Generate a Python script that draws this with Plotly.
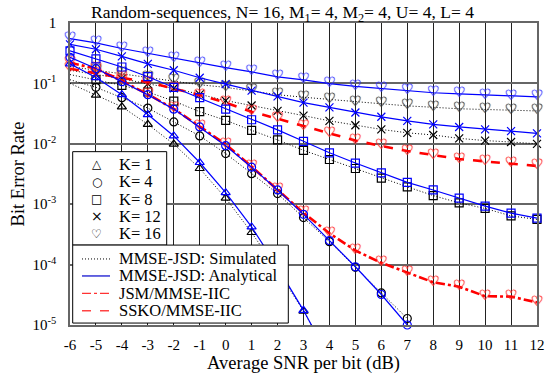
import plotly.graph_objects as go

# ---------------- data ----------------
snr_full = list(range(-6, 13))
snr_k1 = list(range(-6, 5))
snr_k4 = list(range(-6, 8))

sim_k1 = [0.10, 0.064, 0.041, 0.021, 0.0099, 0.0039, 0.00126, 0.00034, 8.0e-5, 1.7e-5, 3.0e-6]
ana_k1 = [0.211, 0.125, 0.065, 0.0305, 0.0135, 0.0049, 0.00155, 0.00042, 9.0e-5, 1.75e-5, 2.8e-6]
sim_k4 = [0.115, 0.086, 0.058, 0.039, 0.023, 0.0135, 0.0069, 0.0032, 0.0015, 0.0006, 0.00024, 9.0e-5, 3.4e-5, 1.28e-5]
ana_k4 = [0.27, 0.176, 0.107, 0.065, 0.0375, 0.019, 0.0093, 0.0041, 0.00172, 0.00068, 0.00025, 9.2e-5, 3.2e-5, 1.0e-5]
sim_k8 = [0.14, 0.115, 0.093, 0.072, 0.051, 0.034, 0.0245, 0.0167, 0.0116, 0.0078, 0.0055, 0.0039, 0.0027,
          0.00194, 0.00139, 0.00105, 0.00085, 0.00064, 0.00056]
ana_k8 = [0.346, 0.254, 0.187, 0.129, 0.086, 0.058, 0.0375, 0.025, 0.017, 0.011, 0.0071, 0.0048, 0.0033,
          0.0023, 0.00172, 0.00126, 0.00093, 0.00071, 0.00059]
sim_k12 = [0.165, 0.14, 0.12, 0.098, 0.083, 0.066, 0.052, 0.043, 0.035, 0.0293, 0.024, 0.0203, 0.0173,
           0.0152, 0.014, 0.0123, 0.0113, 0.0107, 0.010]
ana_k12 = [0.443, 0.368, 0.281, 0.211, 0.165, 0.124, 0.097, 0.076, 0.061, 0.048, 0.040, 0.033, 0.028,
           0.024, 0.021, 0.019, 0.0173, 0.0162, 0.0149]
sim_k16 = [0.19, 0.166, 0.145, 0.126, 0.11, 0.095, 0.086, 0.075, 0.065, 0.059, 0.054, 0.049, 0.046,
           0.0425, 0.040, 0.038, 0.037, 0.036, 0.035]
ana_k16 = [0.553, 0.47, 0.378, 0.314, 0.26, 0.217, 0.182, 0.155, 0.128, 0.114, 0.099, 0.089, 0.082,
           0.076, 0.070, 0.067, 0.064, 0.0616, 0.060]
jsm_k16 = [0.22, 0.176, 0.11, 0.066, 0.038, 0.0195, 0.0098, 0.0042, 0.00175, 0.00072, 0.00033, 0.000171,
           0.000107, 7.4e-5, 5.1e-5, 4.3e-5, 3.0e-5, 2.95e-5, 2.37e-5]
ssko_k16 = [0.175, 0.146, 0.124, 0.105, 0.083, 0.064, 0.048, 0.034, 0.026, 0.0195, 0.0149, 0.0113, 0.0092,
            0.0076, 0.0065, 0.0056, 0.0051, 0.0047, 0.0043]

x_ticks = list(range(-6, 13))
x_tick_text = [str(v) for v in x_ticks]
y_ticks = [1e-5, 1e-4, 1e-3, 1e-2, 1e-1, 1]
y_tick_text = ["10<sup>-5</sup>", "10<sup>-4</sup>", "10<sup>-3</sup>", "10<sup>-2</sup>", "10<sup>-1</sup>", "1"]
k_labels = ["K= 1", "K= 4", "K= 8", "K= 12", "K= 16"]
k_glyphs = ["△", "○", "□", "×", "♡"]
style_labels = ["MMSE-JSD: Simulated", "MMSE-JSD: Analytical", "JSM/MMSE-IIC", "SSKO/MMSE-IIC"]

# ---------------- layout constants ----------------
W, H = 557, 381
L, R, T, B = 70, 20, 23, 47
PW, PH = W - L - R, H - T - B
FONT = "Liberation Serif, Times New Roman, Times, serif"
GLYPH = "DejaVu Sans"
BLUE = "#0000ff"
BLACK = "#000000"
RED = "#ff0000"
YMIN, YMAX = 1e-5, 1.0
DOT = "1px,2px"


def px(xp):
    return (xp - L) / PW


def py(yp):
    return (H - B - yp) / PH


fig = go.Figure()


def add_series(xs, ys, color, dash, width, symbol, skip_first=False, heart=False, msize=8, mcolor=None):
    mcolor = mcolor or color
    fig.add_trace(go.Scatter(x=xs, y=ys, mode="lines", line=dict(color=color, dash=dash, width=width),
                             showlegend=False, hoverinfo="skip"))
    pts = [(a, b) for i, (a, b) in enumerate(zip(xs, ys))
           if YMIN * 0.999 <= b <= YMAX and not (skip_first and i == 0)]
    mx = [p[0] for p in pts]
    my = [p[1] for p in pts]
    if heart:
        fig.add_trace(go.Scatter(x=mx, y=my, mode="text", text=["♡"] * len(mx), textposition="middle center",
                                 textfont=dict(family=GLYPH, size=14, color=mcolor, weight="bold",
                                               shadow=f"0px 0px 0.7px {mcolor}, 0px 0px 0.7px {mcolor}"),
                                 cliponaxis=False, showlegend=False, hoverinfo="skip"))
    else:
        fig.add_trace(go.Scatter(x=mx, y=my, mode="markers", cliponaxis=False,
                                 marker=dict(symbol=symbol, size=msize, color=mcolor,
                                             line=dict(color=mcolor, width=1.2)),
                                 showlegend=False, hoverinfo="skip"))


# simulated (black dotted)
add_series(snr_k1, sim_k1, BLACK, DOT, 1, "triangle-up-open", skip_first=True)
add_series(snr_k4, sim_k4, BLACK, DOT, 1, "circle-open", skip_first=True)
add_series(snr_full, sim_k8, BLACK, DOT, 1, "square-open", skip_first=True)
add_series(snr_full, sim_k12, BLACK, DOT, 1, "x-thin-open", skip_first=True)
add_series(snr_full, sim_k16, BLACK, DOT, 1, None, skip_first=True, heart=True, mcolor="#333333")
# red comparison curves
add_series(snr_full, ssko_k16, RED, "dash", 2.6, None, heart=True, mcolor="#ff2020")
add_series(snr_full, jsm_k16, RED, "dashdot", 2.6, None, heart=True, mcolor="#ff2020")
# analytical (blue solid)
add_series(snr_k1, ana_k1, BLUE, "solid", 1.2, "triangle-up-open")
add_series(snr_k4, ana_k4, BLUE, "solid", 1.2, "circle-open")
add_series(snr_full, ana_k8, BLUE, "solid", 1.2, "square-open")
add_series(snr_full, ana_k12, BLUE, "solid", 1.2, "x-thin-open")
add_series(snr_full, ana_k16, BLUE, "solid", 1.2, None, heart=True, mcolor="#3030ff")

shapes = []
annotations = []

# legend box 1 (markers)
shapes.append(dict(type="rect", xref="paper", yref="paper", x0=px(72.7), x1=px(166.7), y0=py(251.7), y1=py(155.5),
                   fillcolor="white", line=dict(color="black", width=1), layer="above"))
# legend box 2 (line styles)
shapes.append(dict(type="rect", xref="paper", yref="paper", x0=px(72.7), x1=px(288.3), y0=py(332), y1=py(251.7),
                   fillcolor="white", line=dict(color="black", width=1), layer="above"))

k_rows = [168.3, 186.5, 204.5, 222, 240]
for lab, g, yy in zip(k_labels, k_glyphs, k_rows):
    annotations.append(dict(xref="paper", yref="paper", x=px(96.7), y=py(yy), text=g, showarrow=False,
                            xanchor="center", yanchor="middle",
                            font=dict(family=GLYPH, size=12 if g != "×" else 14, color="black")))
    annotations.append(dict(xref="paper", yref="paper", x=px(117), y=py(yy), text=lab, showarrow=False,
                            xanchor="left", yanchor="middle", font=dict(family=FONT, size=16.5, color="black")))

style_rows = [266, 283.5, 301.5, 319.3]
style_lines = [("#000000", DOT, 1), ("#0000cc", "solid", 1.2), ("#ff3333", "dashdot", 1.2), ("#ff4444", "dash", 1.4)]
for lab, (c, d, w), yy in zip(style_labels, style_lines, style_rows):
    shapes.append(dict(type="line", xref="paper", yref="paper", x0=px(82), x1=px(110), y0=py(yy), y1=py(yy),
                       line=dict(color=c, dash=d, width=w), layer="above"))
    annotations.append(dict(xref="paper", yref="paper", x=px(117), y=py(yy), text=lab, showarrow=False,
                            xanchor="left", yanchor="middle", font=dict(family=FONT, size=16.5, color="black")))

# title
annotations.append(dict(xref="paper", yref="paper", x=px(282), y=py(13), showarrow=False,
                        text="Random-sequences, N= 16, M<sub>1</sub>= 4, M<sub>2</sub>= 4, U= 4, L= 4",
                        xanchor="center", yanchor="middle", font=dict(family=FONT, size=17.5, color="black")))

fig.update_layout(
    width=W, height=H, margin=dict(l=L, r=R, t=T, b=B),
    paper_bgcolor="white", plot_bgcolor="white",
    font=dict(family=FONT, size=14, color="black"),
    shapes=shapes, annotations=annotations, showlegend=False,
    xaxis=dict(range=[-6, 12], tickmode="array", tickvals=x_ticks, ticktext=x_tick_text, showgrid=True,
               gridcolor="#222222", gridwidth=1.2, zeroline=False, showline=True, mirror=True,
               linecolor="#666666", linewidth=1.5, ticks="", tickfont=dict(family=FONT, size=15),
               ticklabelstandoff=5,
               title=dict(text="Average SNR per bit (dB)", font=dict(family=FONT, size=18.5), standoff=3)),
    yaxis=dict(type="log", range=[-5, 0], tickmode="array", tickvals=y_ticks, ticktext=y_tick_text,
               showgrid=True, gridcolor="#666666", gridwidth=1.6, zeroline=False, showline=True, mirror=True,
               linecolor="#666666", linewidth=1.5, ticks="", tickfont=dict(family=FONT, size=15),
               ticklabelstandoff=9,
               title=dict(text="Bit Error Rate", font=dict(family=FONT, size=18.5), standoff=3)),
)

fig.write_html("out.html")
